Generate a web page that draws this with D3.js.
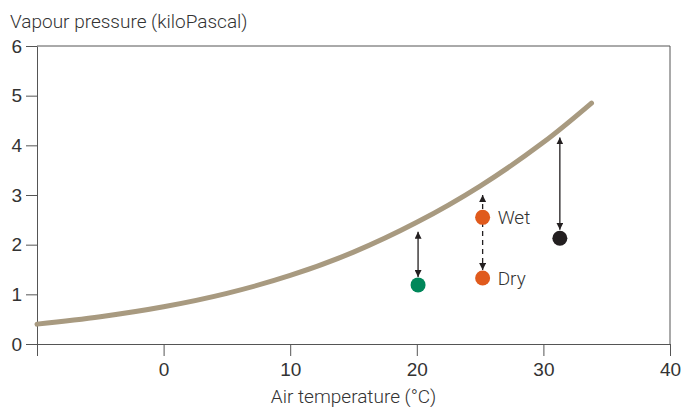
<!DOCTYPE html>
<html lang="en">
<head>
    <meta charset="UTF-8">
    <script src="https://d3js.org/d3.v7.min.js"></script>
    <style>
        body { margin: 0; background: #fff; }
        svg { display: block; font-family: Roboto, "Open Sans", sans-serif; }
        .axis text { font-size: 19px; fill: #333; font-weight: 300; }
        .axis line, .axis path { stroke: #555; stroke-width: 1px; }
        .label { font-size: 19px; fill: #333; font-weight: 300; }
    </style>
</head>
<body>
    <svg id="chart"></svg>

    <script>
        // saturation curve
        const curveTemp = [-10, -5, 0, 5, 10, 15, 20, 25, 30, 33.8];
        const curvePressure = [0.40, 0.55, 0.75, 1.02, 1.38, 1.85, 2.45, 3.18, 4.06, 4.85];

        // measured air samples
        const pointTemp = [20.1, 25.2, 25.2, 31.3];
        const pointPressure = [1.19, 2.55, 1.33, 2.13];
        const pointLabel = ["", "Wet", "Dry", ""];

        // deficit arrows (top on the curve side, bottom near the dot)
        const arrowTemp = [20.1, 25.2, 31.3];
        const arrowTop = [2.26, 3.0, 4.16];
        const arrowBottom = [1.35, 1.49, 2.3];
        const arrowDashed = [false, true, false];

        const xTicks = [-10, 0, 10, 20, 30, 40];
        const yTicks = [0, 1, 2, 3, 4, 5, 6];

        const pointColors = ["#00875a", "#e05a1c", "#e05a1c", "#231f20"];

        const width = 692, height = 407;
        const plotLeft = 37, plotRight = 670, plotTop = 46, plotBottom = 344;

        const svg = d3.select("#chart")
            .attr("width", width)
            .attr("height", height);

        const x = d3.scaleLinear().domain([-10, 40]).range([plotLeft, plotRight]);
        const y = d3.scaleLinear().domain([0, 6]).range([plotBottom, plotTop]);

        svg.append("defs").append("marker")
            .attr("id", "head")
            .attr("viewBox", "0 0 10 10")
            .attr("refX", 10).attr("refY", 5)
            .attr("markerWidth", 7).attr("markerHeight", 7)
            .attr("markerUnits", "userSpaceOnUse")
            .attr("orient", "auto-start-reverse")
            .append("path")
            .attr("d", "M0,0 L10,5 L0,10 Z")
            .attr("fill", "#231f20");

        // frame top + right
        svg.append("path")
            .attr("d", `M${plotLeft},${plotTop}H${plotRight}V${plotBottom}`)
            .attr("fill", "none")
            .attr("stroke", "#555");

        svg.append("g")
            .attr("class", "axis")
            .attr("transform", `translate(0,${plotBottom})`)
            .call(d3.axisBottom(x).tickValues(xTicks).tickSize(12).tickSizeOuter(0).tickPadding(7)
                .tickFormat(d => d === -10 ? "" : d));

        svg.append("g")
            .attr("class", "axis")
            .attr("transform", `translate(${plotLeft},0)`)
            .call(d3.axisLeft(y).tickValues(yTicks).tickSize(11).tickSizeOuter(0).tickPadding(4)
                .tickFormat(d3.format("d")));

        const curveData = curveTemp.map((t, i) => [t, curvePressure[i]]);
        svg.append("path")
            .datum(curveData)
            .attr("fill", "none")
            .attr("stroke", "#a89a80")
            .attr("stroke-width", 5)
            .attr("stroke-linecap", "round")
            .attr("d", d3.line().x(d => x(d[0])).y(d => y(d[1])).curve(d3.curveCatmullRom));

        svg.selectAll(".arrow")
            .data(arrowTemp)
            .enter()
            .append("line")
            .attr("class", "arrow")
            .attr("x1", d => x(d)).attr("x2", d => x(d))
            .attr("y1", (d, i) => y(arrowTop[i]))
            .attr("y2", (d, i) => y(arrowBottom[i]))
            .attr("stroke", "#231f20")
            .attr("stroke-width", 1.3)
            .attr("stroke-dasharray", (d, i) => arrowDashed[i] ? "5,4" : null)
            .attr("marker-start", "url(#head)")
            .attr("marker-end", "url(#head)");

        svg.selectAll(".dot")
            .data(pointTemp)
            .enter()
            .append("circle")
            .attr("class", "dot")
            .attr("cx", d => x(d))
            .attr("cy", (d, i) => y(pointPressure[i]))
            .attr("r", 7.5)
            .attr("fill", (d, i) => pointColors[i]);

        svg.selectAll(".plabel")
            .data(pointTemp)
            .enter()
            .append("text")
            .attr("class", "label")
            .attr("x", d => x(d) + 15)
            .attr("y", (d, i) => y(pointPressure[i]))
            .attr("dy", "0.35em")
            .text((d, i) => pointLabel[i]);

        svg.append("text")
            .attr("class", "label")
            .attr("x", 10)
            .attr("y", 28)
            .text("Vapour pressure (kiloPascal)");

        svg.append("text")
            .attr("class", "label")
            .attr("x", (plotLeft + plotRight) / 2)
            .attr("y", 403)
            .attr("text-anchor", "middle")
            .text("Air temperature (°C)");
    </script>
</body>
</html>
